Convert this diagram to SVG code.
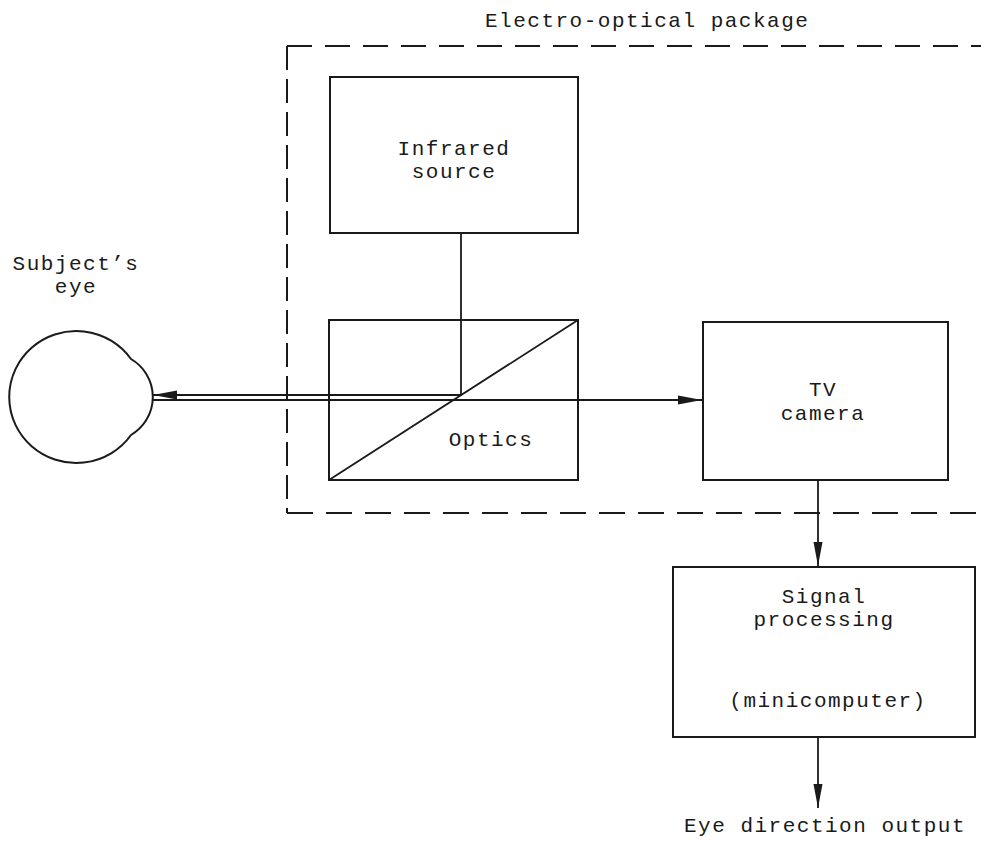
<svg xmlns="http://www.w3.org/2000/svg" width="981" height="841" viewBox="0 0 981 841">
<defs>
<style>
.box{fill:none;stroke:#1a1a1a;stroke-width:2}
.ln{fill:none;stroke:#1a1a1a;stroke-width:1.8}
.dash{fill:none;stroke:#1a1a1a;stroke-width:2}
text{font-family:"Liberation Mono","Courier New",monospace;font-size:21px;letter-spacing:1.5px;fill:#1a1a1a}
.c{text-anchor:middle}
</style>
<marker id="arr" markerUnits="userSpaceOnUse" markerWidth="26" markerHeight="12" refX="24" refY="5" orient="auto">
<path d="M0,0.5 L24,5 L0,9.5 Z" fill="#1a1a1a"/>
</marker>
</defs>
<rect width="981" height="841" fill="#fff"/>

<g id="package">
<path class="dash" d="M287 46 H981" stroke-dasharray="25 13"/>
<path class="dash" d="M287 46 V60"/>
<path class="dash" d="M287 46 V513" stroke-dasharray="24 9"/>
<path class="dash" d="M287 513 H981" stroke-dasharray="26 13"/>
<text x="485" y="27">Electro-optical package</text>
</g>

<g id="eye">
<path class="box" d="M131 359 A44 44 0 0 1 131 435 A67 66 0 1 1 131 359 Z"/>
<text class="c" x="76" y="270">Subject’s</text>
<text class="c" x="76" y="293">eye</text>
</g>

<g id="infrared">
<rect class="box" x="330" y="77" width="248" height="156"/>
<text class="c" x="454" y="155">Infrared</text>
<text class="c" x="454" y="178">source</text>
</g>

<g id="optics">
<rect class="box" x="329" y="320" width="249" height="160"/>
<path class="ln" d="M329 480 L578 320"/>
<text class="c" x="491" y="446">Optics</text>
</g>

<g id="tv">
<rect class="box" x="703" y="322" width="245" height="158"/>
<text class="c" x="823" y="396">TV</text>
<text class="c" x="823" y="420">camera</text>
</g>

<g id="signal">
<rect class="box" x="673" y="567" width="302" height="170"/>
<text class="c" x="824" y="603">Signal</text>
<text class="c" x="824" y="626">processing</text>
<text class="c" x="828" y="707">(minicomputer)</text>
</g>

<g id="output">
<text class="c" x="825" y="832">Eye direction output</text>
</g>

<g id="connectors">
<path class="ln" d="M461 233 V395 H153" marker-end="url(#arr)"/>
<path class="ln" d="M153 400 H702" marker-end="url(#arr)"/>
<path class="ln" d="M818 480 V566" marker-end="url(#arr)"/>
<path class="ln" d="M818 737 V808" marker-end="url(#arr)"/>
</g>
</svg>
